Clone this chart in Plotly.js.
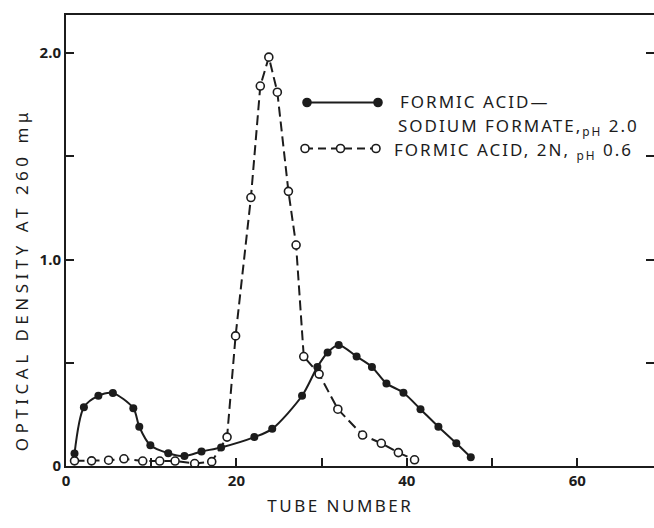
<!DOCTYPE html>
<html><head><meta charset="utf-8">
<script src="https://cdn.plot.ly/plotly-3.0.1.min.js"></script>
<style>body{margin:0;background:#fff}</style>
</head><body><div id="chart" style="width:654px;height:528px"></div>
<script>
// Formic acid – sodium formate, pH 2.0 (filled circles, solid line)
const solidTube = [1, 2.1, 3.8, 5.5, 7.9, 8.6, 9.9, 12, 13.9, 15.9, 18.2, 22.1, 24.2, 27.7, 29.5, 30.7, 32, 34.1, 35.9, 37.6, 39.6, 41.6, 43.7, 45.8, 47.5];
const solidOD   = [0.06, 0.285, 0.34, 0.353, 0.28, 0.19, 0.10, 0.062, 0.048, 0.07, 0.09, 0.14, 0.18, 0.34, 0.48, 0.55, 0.586, 0.53, 0.48, 0.40, 0.355, 0.275, 0.19, 0.11, 0.042];
// Formic acid, 2N, pH 0.6 (open circles, dashed line)
const dashTube = [1, 3, 5, 6.8, 9, 11, 12.8, 15.1, 17.1, 18.9, 19.9, 21.7, 22.8, 23.8, 24.8, 26.1, 27, 27.9, 29.7, 31.9, 34.8, 37, 39, 40.9];
const dashOD   = [0.025, 0.025, 0.028, 0.035, 0.024, 0.024, 0.024, 0.012, 0.021, 0.14, 0.63, 1.30, 1.84, 1.98, 1.81, 1.33, 1.07, 0.53, 0.445, 0.275, 0.15, 0.11, 0.065, 0.03];

const xTickVals = [0, 10, 20, 30, 40, 50, 60];
const xTickText = ['0', '', '20', '', '40', '', '60'];
const yTickVals = [0, 0.5, 1, 1.5, 2];
const yTickText = ['0', '', '1.0', '', '2.0'];

const xTitle = 'TUBE NUMBER';
const yTitle = 'OPTICAL DENSITY AT 260 mμ';
const legendSolidLines = ['FORMIC ACID—', 'SODIUM FORMATE,<sub>pH</sub> 2.0'];
const legendDashLine = 'FORMIC ACID, 2N, <sub>pH</sub> 0.6';

const INK = '#1c1c1c';
const FONT = 'Noto Sans';
const L = 66, T = 15, W = 588, H = 451;
const px = x => (x - L) / W;
const py = y => (T + H - y) / H;

const traces = [
  {x: solidTube, y: solidOD, mode: 'lines+markers', type: 'scatter',
   line: {color: INK, width: 2, shape: 'spline', smoothing: 0.8},
   marker: {symbol: 'circle', size: 8, color: INK}, showlegend: false},
  {x: dashTube, y: dashOD, mode: 'lines+markers', type: 'scatter',
   line: {color: INK, width: 2, dash: '10px,5px'},
   marker: {symbol: 'circle', size: 8, color: '#fff', line: {color: INK, width: 1.6}}, showlegend: false}
];

function dot(xp, yp, filled) {
  return {type: 'circle', xref: 'paper', yref: 'paper', xsizemode: 'pixel', ysizemode: 'pixel',
    xanchor: px(xp), yanchor: py(yp), x0: -4, x1: 4, y0: -4, y1: 4,
    fillcolor: filled ? INK : '#fff', line: {color: INK, width: 1.6}};
}
const shapes = [
  {type: 'line', xref: 'paper', yref: 'paper', x0: px(307), x1: px(378), y0: py(102.5), y1: py(102.5), line: {color: INK, width: 2}},
  dot(307, 102.5, true), dot(378, 102.5, true),
  {type: 'line', xref: 'paper', yref: 'paper', x0: px(305), x1: px(376), y0: py(148.5), y1: py(148.5), line: {color: INK, width: 2, dash: '8px,5px'}},
  dot(305, 148.5, false), dot(340.5, 148.5, false), dot(376, 148.5, false)
];

const tf = {family: FONT, size: 17, color: INK};
const annotations = [
  {xref: 'paper', yref: 'paper', x: px(398), y: py(102), xanchor: 'left', yanchor: 'middle', text: legendSolidLines[0], showarrow: false, font: tf},
  {xref: 'paper', yref: 'paper', x: px(396), y: py(127), xanchor: 'left', yanchor: 'middle', text: legendSolidLines[1], showarrow: false, font: tf},
  {xref: 'paper', yref: 'paper', x: px(392), y: py(150), xanchor: 'left', yanchor: 'middle', text: legendDashLine, showarrow: false, font: tf},
  {xref: 'paper', yref: 'paper', x: px(340), y: py(505), xanchor: 'center', yanchor: 'middle', text: xTitle, showarrow: false, font: tf},
  {xref: 'paper', yref: 'paper', x: px(21), y: py(280), xanchor: 'center', yanchor: 'middle', textangle: -90, text: yTitle, showarrow: false, font: tf}
];

const layout = {
  width: 654, height: 528,
  margin: {l: L, r: 0, t: T, b: 528 - T - H, pad: 0},
  paper_bgcolor: '#fff', plot_bgcolor: '#fff',
  showlegend: false,
  xaxis: {range: [0, 69], tickvals: xTickVals, ticktext: xTickText, ticks: 'inside', ticklen: 8, tickwidth: 2, tickcolor: INK,
          showline: true, linewidth: 2, linecolor: INK, mirror: true, showgrid: false, zeroline: false,
          tickfont: {family: FONT, size: 15, color: INK, weight: 'bold'}},
  yaxis: {range: [0, 2.184], tickvals: yTickVals, ticktext: yTickText, ticks: 'inside', ticklen: 8, tickwidth: 2, tickcolor: INK,
          showline: true, linewidth: 2, linecolor: INK, mirror: 'ticks', showgrid: false, zeroline: false,
          tickfont: {family: FONT, size: 15, color: INK, weight: 'bold'}},
  shapes: shapes,
  annotations: annotations
};

Plotly.newPlot('chart', traces, layout, {displayModeBar: false, staticPlot: true}).then(() => {
  const anns = document.querySelectorAll('.annotation-text');
  const spacing = ['2px', '2px', '2px', '2.5px', '4.5px'];
  anns.forEach((el, i) => {
    if (i >= spacing.length) return;
    const before = el.getBBox();
    el.style.letterSpacing = spacing[i];
    if (i < 3) {
      const after = el.getBBox();
      const dx = before.x - after.x;
      el.setAttribute('transform', 'translate(' + dx + ',0)');
    }
  });
});
</script></body></html>
